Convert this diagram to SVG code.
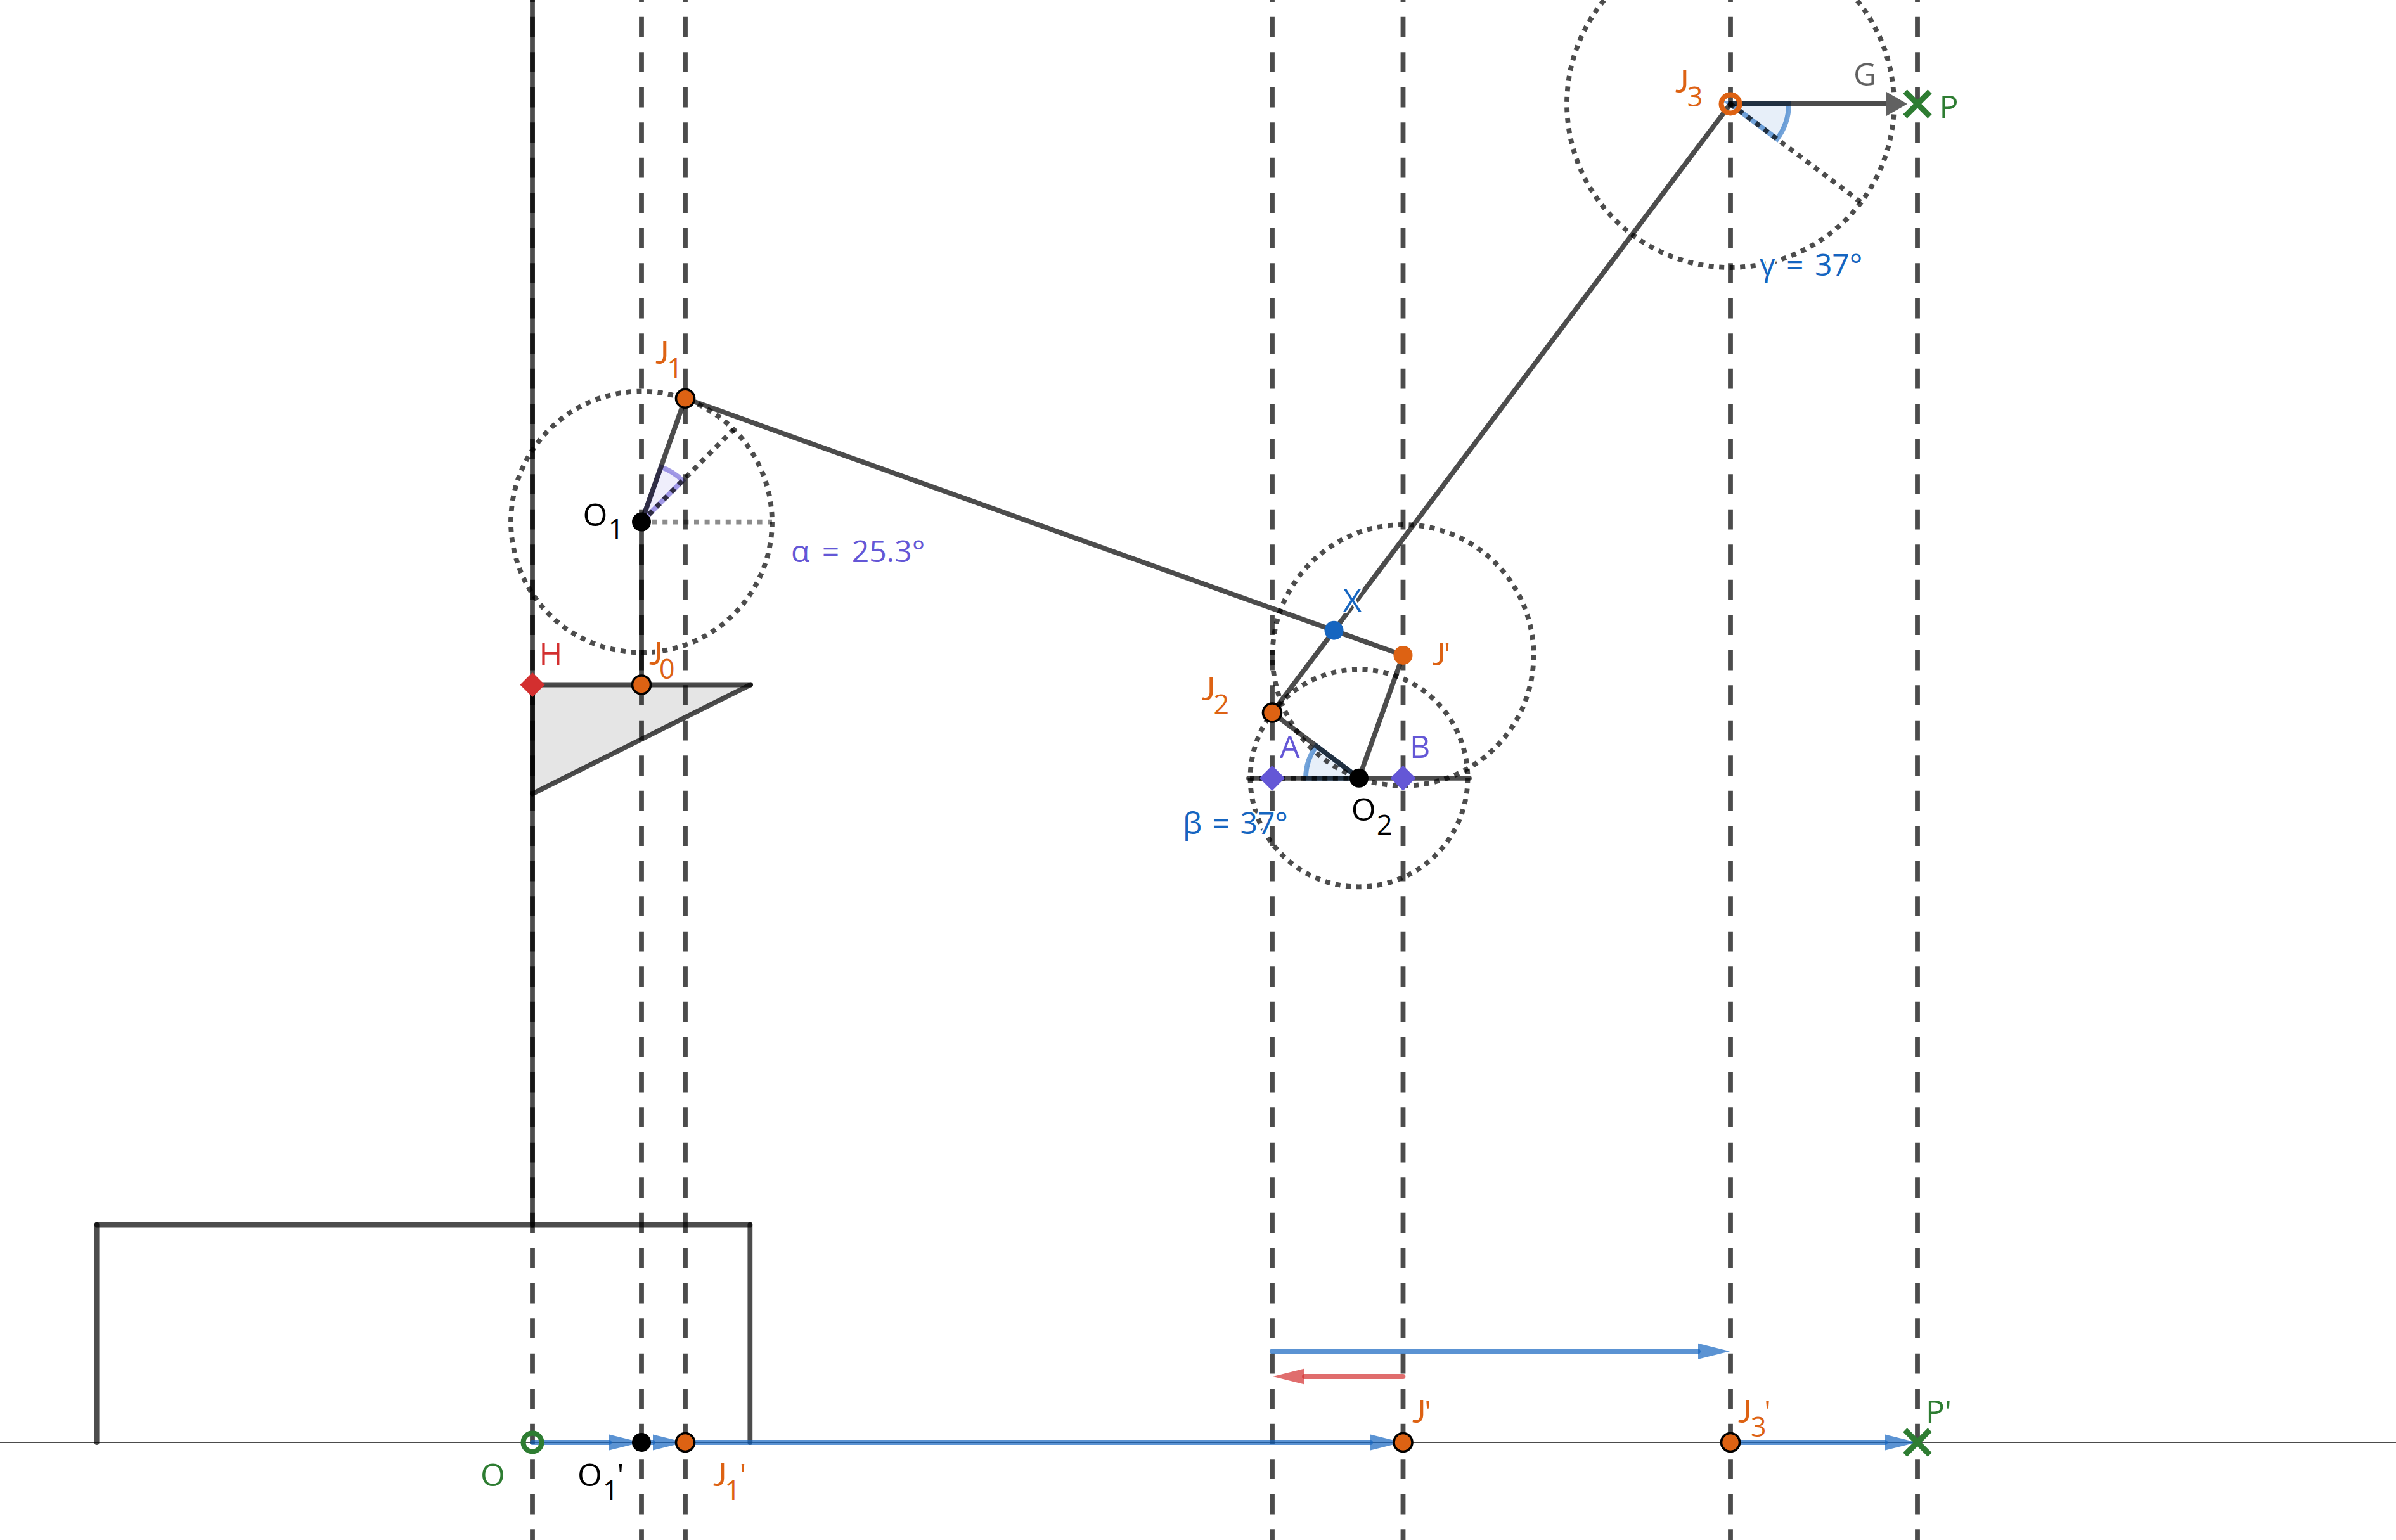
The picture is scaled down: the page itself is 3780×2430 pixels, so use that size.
<svg xmlns="http://www.w3.org/2000/svg" width="3780" height="2430" viewBox="0 0 3780 2430">
<defs>
<style>
text{font-family:"Open Sans","Noto Sans",sans-serif;font-size:50px;paint-order:stroke;stroke:#fff;stroke-width:5px;stroke-linejoin:round}
.v{font-size:48px}
.s{font-size:43px}
.j{font-family:"Lato","Open Sans",sans-serif;font-size:51px}
.or{fill:#dd6213}.pu{fill:#6457d6}.bl{fill:#1565c0}.gr{fill:#2e7d32}.re{fill:#d32f2f}.bk{fill:#000}.gy{fill:#616161}
.solid{fill:none;stroke:#000;stroke-opacity:.7;stroke-width:7.8;stroke-linecap:round;stroke-linejoin:round}
.dash{fill:none;stroke:#000;stroke-opacity:.7;stroke-width:7.8;stroke-dasharray:31.7 23.8;stroke-dashoffset:28.8}
.dot{fill:none;stroke:#000;stroke-opacity:.7;stroke-width:7.8;stroke-dasharray:8 8.6}
.dotl{stroke-opacity:.45}
.vec{fill:none;stroke:#1565c0;stroke-opacity:.7;stroke-width:7.8;stroke-linecap:round}
.vecr{fill:none;stroke:#d32f2f;stroke-opacity:.7;stroke-width:7.8;stroke-linecap:round}
.sb{fill:#1565c0;fill-opacity:.1;stroke:#1565c0;stroke-opacity:.6;stroke-width:7.8}
.sp{fill:#6457d6;fill-opacity:.1;stroke:#6457d6;stroke-opacity:.6;stroke-width:7.8}
.pt{stroke:#000;stroke-width:3.6}
.ring{fill:none;stroke-width:8}
.x{fill:none;stroke:#2e7d32;stroke-width:9}
</style>
<marker id="hb" markerUnits="userSpaceOnUse" markerWidth="51" markerHeight="26" refX="0" refY="13" orient="auto"><path d="M0,.5L50,13L0,25.5Z" fill="#1565c0" fill-opacity=".7"/></marker>
<marker id="hr" markerUnits="userSpaceOnUse" markerWidth="51" markerHeight="26" refX="0" refY="13" orient="auto"><path d="M0,.5L50,13L0,25.5Z" fill="#d32f2f" fill-opacity=".7"/></marker>
<marker id="hg" markerUnits="userSpaceOnUse" markerWidth="34" markerHeight="40" refX="0" refY="20" orient="auto"><path d="M0,1L33,20L0,39Z" fill="#616161"/></marker>
</defs>
<rect width="3780" height="2430" fill="#fff"/>
<g id="connectors">
<path d="M840,1080.5H1184L840,1252.5Z" fill="#000" fill-opacity=".1" stroke="none"/>
<path class="sp" d="M1012,823.6L1076.9,758.4A92,92 0 0 0 1042.9,736.9Z"/>
<path class="sb" d="M2144,1227.8L2060,1227.8A84,84 0 0 1 2076.9,1177.2Z"/>
<path class="sb" d="M2730,164L2822,164A92,92 0 0 1 2803.5,219.4Z"/>
<path d="M0,2276H3780" fill="none" stroke="#000" stroke-opacity=".7" stroke-width="1.8"/>
<path class="dash" d="M840,0V2430M1012,0V2430M1081,0V2430M2007,0V2430M2213.5,0V2430M2730,0V2430M3025,0V2430"/>
<path class="solid" d="M840,0V1932.7"/>
<path class="solid" d="M152.7,2276V1932.7"/>
<path class="solid" d="M152.7,1932.7H1183.3"/>
<path class="solid" d="M1183.3,1932.7V2276"/>
<path class="solid" d="M840,1080.5H1184"/>
<path class="solid" d="M1184,1080.5L840,1252.5"/>
<path class="solid" d="M840,1252.5V1080.5"/>
<path class="solid" d="M1012,823.6V1080.5"/>
<path class="solid" d="M1012,823.6L1081,628.7"/>
<path class="solid" d="M1081,628.7L2213.5,1033.9"/>
<path class="solid" d="M2007,1124.5L2730,164"/>
<path class="solid" d="M2007,1124.5L2144,1227.8"/>
<path class="solid" d="M2144,1227.8L2213.5,1033.9"/>
<path class="solid" d="M1970,1227.8H2318"/>
<circle class="dot" cx="1012" cy="823.6" r="206"/>
<circle class="dot" cx="2213.5" cy="1033.9" r="206"/>
<circle class="dot" cx="2144" cy="1227.8" r="171.5"/>
<circle class="dot" cx="2730" cy="164" r="258"/>
<path class="dot" d="M1012,823.6L1157.4,677.6"/>
<path class="dot dotl" d="M1012,823.6H1218"/>
<path class="dot" d="M2144,1227.8H1972"/>
<path class="dot" d="M2730,164L2936,319.3"/>
<path class="solid" d="M2730,164H2976" marker-end="url(#hg)"/>
<path class="vec" d="M840,2276H961" marker-end="url(#hb)"/>
<path class="vec" d="M1012,2276H1030" marker-end="url(#hb)"/>
<path class="vec" d="M1081,2276H2162" marker-end="url(#hb)"/>
<path class="vec" d="M2729,2276H2974" marker-end="url(#hb)"/>
<path class="vec" d="M2007,2132.3H2679" marker-end="url(#hb)"/>
<path class="vecr" d="M2213.5,2172H2058" marker-end="url(#hr)"/>
</g>
<g id="O1"><circle class="bk" cx="1012" cy="823.6" r="15"/><text class="bk" x="919.5" y="830">O<tspan class="s" x="959.6" dy="20">1</tspan></text></g>
<g id="J1"><circle class="or pt" cx="1081" cy="628.7" r="14.5"/><text class="or" y="574"><tspan class="j" x="1034">J</tspan><tspan class="s" x="1052.5" dy="21.7">1</tspan></text></g>
<g id="alpha"><text class="pu v" x="1248" y="886.5" word-spacing="7">α = 25.3°</text></g>
<g id="H"><path class="re" d="M840,1061L859.5,1080.5L840,1100L820.5,1080.5Z"/><text class="re" x="850.5" y="1049">H</text></g>
<g id="J0"><circle class="or pt" cx="1012" cy="1080.5" r="14.5"/><text class="or" y="1049"><tspan class="j" x="1024">J</tspan><tspan class="s" x="1040" dy="21.8">0</tspan></text></g>
<g id="X"><circle class="bl" cx="2104.5" cy="994.7" r="15"/><text class="bl" x="2119" y="965.3">X</text></g>
<g id="Jp"><circle class="or" cx="2213.5" cy="1033.9" r="15"/><text class="or" y="1050"><tspan class="j" x="2259.6">J</tspan><tspan x="2277.5">'</tspan></text></g>
<g id="J2"><circle class="or pt" cx="2007" cy="1124.5" r="14.5"/><text class="or" y="1105"><tspan class="j" x="1896">J</tspan><tspan class="s" x="1914.5" dy="22">2</tspan></text></g>
<g id="A"><path class="pu" d="M2007,1207.8L2027,1227.8L2007,1247.8L1987,1227.8Z"/><text class="pu" x="2019" y="1196">A</text></g>
<g id="B"><path class="pu" d="M2213.5,1207.8L2233.5,1227.8L2213.5,1247.8L2193.5,1227.8Z"/><text class="pu" x="2224" y="1196">B</text></g>
<g id="O2"><circle class="bk" cx="2144" cy="1227.8" r="15"/><text class="bk" x="2131.7" y="1295">O<tspan class="s" x="2172" dy="22">2</tspan></text></g>
<g id="beta"><text class="bl v" x="1866" y="1316" word-spacing="4">β = 37°</text></g>
<g id="J3"><circle class="ring" cx="2730" cy="164" r="14.5" stroke="#dd6213"/><text class="or" y="146"><tspan class="j" x="2643">J</tspan><tspan class="s" x="2661.8" dy="22">3</tspan></text></g>
<g id="G"><text class="gy" x="2924" y="135">G</text></g>
<g id="P"><path class="x" d="M3005.5,144.5L3044.5,183.5M3044.5,144.5L3005.5,183.5"/><text class="gr" x="3059.5" y="185.5">P</text></g>
<g id="gamma"><text class="bl v" x="2776" y="435" word-spacing="5">γ = 37°</text></g>
<g id="O"><circle class="ring" cx="840" cy="2276" r="14.5" stroke="#2e7d32"/><text class="gr" x="758" y="2345">O</text></g>
<g id="O1p"><circle class="bk" cx="1012" cy="2276" r="15"/><text class="bk" x="911" y="2345">O<tspan class="s" x="951" dy="21.7">1</tspan><tspan x="973.5" dy="-21.7">'</tspan></text></g>
<g id="J1p"><circle class="or pt" cx="1081" cy="2276" r="14.5"/><text class="or" y="2345"><tspan class="j" x="1125">J</tspan><tspan class="s" x="1143.5" dy="21.7">1</tspan><tspan x="1166.5" dy="-21.7">'</tspan></text></g>
<g id="Jpp"><circle class="or pt" cx="2213.5" cy="2276" r="14.5"/><text class="or" y="2245"><tspan class="j" x="2228">J</tspan><tspan x="2247">'</tspan></text></g>
<g id="J3p"><circle class="or pt" cx="2730" cy="2276" r="14.5"/><text class="or" y="2245"><tspan class="j" x="2742">J</tspan><tspan class="s" x="2762" dy="22">3</tspan><tspan x="2783" dy="-22">'</tspan></text></g>
<g id="Pp"><path class="x" d="M3005.5,2256.5L3044.5,2295.5M3044.5,2256.5L3005.5,2295.5"/><text class="gr" x="3038" y="2245">P'</text></g>
</svg>
